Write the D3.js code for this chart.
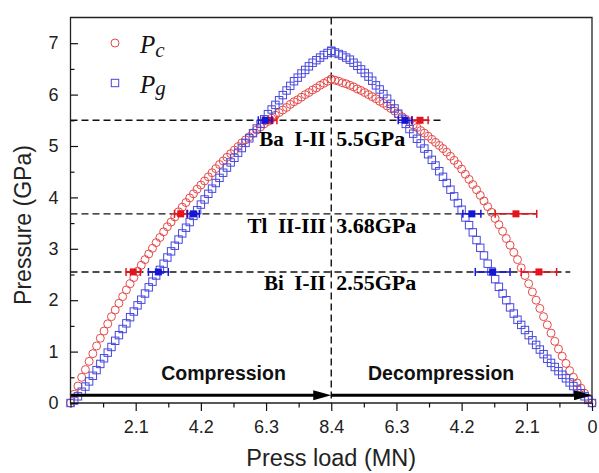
<!DOCTYPE html>
<html>
<head>
<meta charset="utf-8">
<script src="https://cdn.jsdelivr.net/npm/d3@7"></script>
<style>
  body { margin: 0; background: #fff; overflow: hidden; }
  svg { display: block; }
</style>
</head>
<body>
<svg class="chart" width="599" height="473"></svg>
<script>
// press load steps (MN), shared by both branches
const loads = [0, 0.12, 0.24, 0.36, 0.48, 0.6, 0.72, 0.84, 0.96, 1.08,
    1.2, 1.32, 1.44, 1.56, 1.68, 1.8, 1.92, 2.04, 2.16, 2.28,
    2.4, 2.52, 2.64, 2.76, 2.88, 3, 3.12, 3.24, 3.36, 3.48,
    3.6, 3.72, 3.84, 3.96, 4.08, 4.2, 4.32, 4.44, 4.56, 4.68,
    4.8, 4.92, 5.04, 5.16, 5.28, 5.4, 5.52, 5.64, 5.76, 5.88,
    6, 6.12, 6.24, 6.36, 6.48, 6.6, 6.72, 6.84, 6.96, 7.08,
    7.2, 7.32, 7.44, 7.56, 7.68, 7.8, 7.92, 8.04, 8.16, 8.28, 8.4];

// Pc on compression / decompression (indexed like loads)
const pcUp = [0, 0.17, 0.33, 0.50, 0.65, 0.81, 0.96, 1.11, 1.26, 1.40,
    1.54, 1.68, 1.81, 1.94, 2.07, 2.20, 2.32, 2.44, 2.56, 2.68,
    2.79, 2.90, 3.01, 3.12, 3.22, 3.33, 3.43, 3.52, 3.62, 3.72,
    3.81, 3.90, 3.99, 4.07, 4.16, 4.24, 4.32, 4.40, 4.48, 4.56,
    4.64, 4.71, 4.78, 4.85, 4.92, 4.99, 5.06, 5.12, 5.18, 5.25,
    5.31, 5.37, 5.43, 5.48, 5.54, 5.60, 5.65, 5.70, 5.75, 5.81,
    5.86, 5.90, 5.95, 6.00, 6.04, 6.09, 6.13, 6.18, 6.22, 6.26, 6.30];
const pcDown = [0, 0.09, 0.19, 0.29, 0.39, 0.50, 0.63, 0.77, 0.91, 1.05,
    1.20, 1.36, 1.52, 1.68, 1.84, 2.00, 2.16, 2.32, 2.48, 2.63,
    2.79, 2.93, 3.07, 3.20, 3.34, 3.47, 3.59, 3.71, 3.82, 3.93,
    4.04, 4.15, 4.25, 4.35, 4.45, 4.55, 4.64, 4.72, 4.80, 4.88,
    4.95, 5.01, 5.07, 5.13, 5.19, 5.25, 5.30, 5.36, 5.41, 5.47,
    5.52, 5.57, 5.62, 5.68, 5.73, 5.78, 5.83, 5.87, 5.92, 5.96,
    6.00, 6.04, 6.08, 6.11, 6.15, 6.18, 6.21, 6.23, 6.26, 6.28, 6.30];

// Pg on compression / decompression
const pgUp = [0, 0.05, 0.13, 0.22, 0.32, 0.42, 0.53, 0.64, 0.76, 0.87,
    0.98, 1.09, 1.21, 1.32, 1.44, 1.55, 1.67, 1.78, 1.90, 2.01,
    2.13, 2.25, 2.36, 2.48, 2.59, 2.71, 2.83, 2.95, 3.06, 3.18,
    3.30, 3.41, 3.52, 3.64, 3.75, 3.86, 3.96, 4.07, 4.17, 4.28,
    4.38, 4.48, 4.58, 4.68, 4.77, 4.87, 4.96, 5.06, 5.15, 5.25,
    5.34, 5.43, 5.52, 5.62, 5.71, 5.80, 5.89, 5.99, 6.08, 6.17,
    6.26, 6.33, 6.41, 6.48, 6.55, 6.62, 6.67, 6.72, 6.77, 6.81, 6.85];
const pgDown = [0, 0.06, 0.13, 0.19, 0.26, 0.33, 0.40, 0.48, 0.55, 0.62,
    0.70, 0.78, 0.86, 0.95, 1.04, 1.13, 1.22, 1.32, 1.42, 1.52,
    1.62, 1.74, 1.86, 2.00, 2.13, 2.26, 2.41, 2.56, 2.71, 2.87,
    3.02, 3.17, 3.32, 3.46, 3.61, 3.76, 3.89, 4.02, 4.15, 4.28,
    4.40, 4.51, 4.62, 4.73, 4.84, 4.95, 5.05, 5.14, 5.24, 5.33,
    5.43, 5.53, 5.63, 5.73, 5.82, 5.92, 6.01, 6.10, 6.18, 6.27,
    6.35, 6.42, 6.49, 6.56, 6.62, 6.68, 6.72, 6.76, 6.79, 6.82, 6.85];

// calibration transitions
const phaseEl = ['Bi', 'Tl', 'Ba'];
const phaseTr = ['I-II', 'II-III', 'I-II'];
const transP = [2.55, 3.68, 5.5];
const dashEnd = [16.1, 15.03, 12.0];      // where each dashed line stops (axis units)

// load at each transition, with error (MN)
const pcCompLoad = [2.02, 3.55, 6.43], pcCompErr = [0.23, 0.2, 0.22];
const pgCompLoad = [2.83, 3.96, 6.27], pgCompErr = [0.32, 0.19, 0.22];
const pcDecLoad = [1.71, 2.45, 5.54], pcDecErr = [0.57, 0.67, 0.26];
const pgDecLoad = [3.2, 3.87, 6.02], pgDecErr = [0.56, 0.29, 0.22];

const peakLoad = 8.4;
const xTickPos = [2.1, 4.2, 6.3, 8.4, 10.5, 12.6, 14.7, 16.8];
const xTickLabels = ['2.1', '4.2', '6.3', '8.4', '6.3', '4.2', '2.1', '0'];
const xMinor = [0, 1.05, 3.15, 5.25, 7.35, 9.45, 11.55, 13.65, 15.75];
const yTicks = [0, 1, 2, 3, 4, 5, 6, 7];
const yMinor = [0.5, 1.5, 2.5, 3.5, 4.5, 5.5, 6.5];

const red = '#e64a4a', blue = '#4848dc';
const redDark = '#e3141c', blueDark = '#1515d6';
const sans = '"Liberation Sans", Arial, sans-serif';
const serif = '"Liberation Serif", "Times New Roman", serif';

const chart = d3.select('.chart');
const width = +chart.attr('width');
const height = +chart.attr('height');
const margin = { top: 17.5, right: 7, bottom: 70, left: 70.5 };
const innerWidth = width - margin.left - margin.right;
const innerHeight = height - margin.top - margin.bottom;

const xScale = d3.scaleLinear().domain([0, 2 * peakLoad]).range([0, innerWidth]);
const yScale = d3.scaleLinear().domain([0, 7.5]).range([innerHeight, 0]);
const unload = l => 2 * peakLoad - l;   // decompression runs back along the axis

const g = chart.append('g')
    .attr('transform', `translate(${margin.left},${margin.top})`);

// transition dashed lines
const dashed = g.append('g').attr('stroke', '#111').attr('stroke-width', 1.4)
    .attr('stroke-dasharray', '7,4').attr('fill', 'none');
transP.forEach((p, i) => {
    dashed.append('line')
        .attr('x1', xScale(0)).attr('x2', xScale(dashEnd[i]))
        .attr('y1', yScale(p)).attr('y2', yScale(p));
});
dashed.append('line')
    .attr('x1', xScale(peakLoad)).attr('x2', xScale(peakLoad))
    .attr('y1', 0).attr('y2', innerHeight);

// Pc circles
const pcData = loads.map((l, i) => ({ x: l, y: pcUp[i] }))
    .concat(loads.map((l, i) => ({ x: unload(l), y: pcDown[i] })));
g.append('g').selectAll('circle').data(pcData)
    .enter().append('circle')
    .attr('cx', d => xScale(d.x))
    .attr('cy', d => yScale(d.y))
    .attr('r', 4)
    .attr('fill', 'none')
    .attr('stroke', red)
    .attr('stroke-width', 1);

// Pg squares
const sq = 7.4;
const pgData = loads.map((l, i) => ({ x: l, y: pgUp[i] }))
    .concat(loads.map((l, i) => ({ x: unload(l), y: pgDown[i] })));
g.append('g').selectAll('rect').data(pgData)
    .enter().append('rect')
    .attr('x', d => xScale(d.x) - sq / 2)
    .attr('y', d => yScale(d.y) - sq / 2)
    .attr('width', sq).attr('height', sq)
    .attr('fill', 'none')
    .attr('stroke', blue)
    .attr('stroke-width', 1);

// error bars at transitions
const errPoints = [];
transP.forEach((p, i) => {
    errPoints.push({ x: pcCompLoad[i], e: pcCompErr[i], y: p, c: redDark });
    errPoints.push({ x: unload(pcDecLoad[i]), e: pcDecErr[i], y: p, c: redDark });
});
transP.forEach((p, i) => {
    errPoints.push({ x: pgCompLoad[i], e: pgCompErr[i], y: p, c: blueDark });
    errPoints.push({ x: unload(pgDecLoad[i]), e: pgDecErr[i], y: p, c: blueDark });
});
const eb = g.append('g').selectAll('g').data(errPoints).enter().append('g')
    .attr('stroke', d => d.c).attr('fill', d => d.c).attr('stroke-width', 1.5);
eb.append('line')
    .attr('x1', d => xScale(d.x - d.e)).attr('x2', d => xScale(d.x + d.e))
    .attr('y1', d => yScale(d.y)).attr('y2', d => yScale(d.y));
eb.append('line')
    .attr('x1', d => xScale(d.x - d.e)).attr('x2', d => xScale(d.x - d.e))
    .attr('y1', d => yScale(d.y) - 4).attr('y2', d => yScale(d.y) + 4);
eb.append('line')
    .attr('x1', d => xScale(d.x + d.e)).attr('x2', d => xScale(d.x + d.e))
    .attr('y1', d => yScale(d.y) - 4).attr('y2', d => yScale(d.y) + 4);
eb.append('rect')
    .attr('x', d => xScale(d.x) - 3.5).attr('y', d => yScale(d.y) - 3.5)
    .attr('width', 7).attr('height', 7).attr('stroke', 'none');

// compression / decompression arrows
const arrowY = yScale(0.15);
[[0, peakLoad], [peakLoad, 2 * peakLoad]].forEach(([a, b]) => {
    g.append('line')
        .attr('x1', xScale(a)).attr('x2', xScale(b) - 10)
        .attr('y1', arrowY).attr('y2', arrowY)
        .attr('stroke', '#000').attr('stroke-width', 3);
    const tip = xScale(b);
    g.append('path')
        .attr('d', `M${tip},${arrowY}L${tip - 18},${arrowY - 5}L${tip - 18},${arrowY + 5}Z`)
        .attr('fill', '#000');
});

// frame
g.append('path')
    .attr('d', `M0,0H${innerWidth}V${innerHeight}H0Z`)
    .attr('fill', 'none').attr('stroke', '#222').attr('stroke-width', 1.3);

// axes
g.append('g')
    .attr('transform', `translate(0,${innerHeight})`)
    .call(d3.axisBottom(xScale).tickValues(xTickPos).tickSize(8).tickSizeOuter(0)
        .tickPadding(9).tickFormat((d, i) => xTickLabels[i]));
g.append('g')
    .attr('transform', `translate(0,${innerHeight})`)
    .call(d3.axisBottom(xScale).tickValues(xMinor).tickSize(4.5).tickSizeOuter(0).tickFormat(''));
g.append('g')
    .call(d3.axisLeft(yScale).tickValues(yTicks).tickSize(-7.5).tickSizeOuter(0).tickPadding(12));
g.append('g')
    .call(d3.axisLeft(yScale).tickValues(yMinor).tickSize(-4).tickSizeOuter(0).tickFormat(''));
g.selectAll('.domain').remove();
g.selectAll('.tick line').attr('stroke', '#111').attr('stroke-width', 1.2);
g.selectAll('.tick text')
    .attr('font-family', sans).attr('font-size', 18).attr('fill', '#222');

// transition labels
const labelDrop = [18.5, 19.5, 26];
transP.forEach((p, i) => {
    const yy = yScale(p) + labelDrop[i];
    g.append('text')
        .attr('x', xScale(peakLoad) - 5.5).attr('y', yy)
        .attr('text-anchor', 'end')
        .attr('font-family', serif).attr('font-weight', 'bold').attr('font-size', 21)
        .text(`${phaseEl[i]}\u2002${phaseTr[i]}`);
    g.append('text')
        .attr('x', xScale(peakLoad) + 5).attr('y', yy)
        .attr('font-family', serif).attr('font-weight', 'bold').attr('font-size', 22)
        .text(`${p}GPa`);
});

const phaseText = [['Compression', 4.93], ['Decompression', 11.94]];
phaseText.forEach(([t, pos]) => {
    g.append('text')
        .attr('x', xScale(pos)).attr('y', yScale(0.45))
        .attr('text-anchor', 'middle')
        .attr('font-family', sans).attr('font-weight', 'bold').attr('font-size', 19.5)
        .attr('fill', '#111')
        .text(t);
});

// axis titles
chart.append('text')
    .attr('x', margin.left + xScale(peakLoad)).attr('y', 466)
    .attr('text-anchor', 'middle')
    .attr('font-family', sans).attr('font-size', 23.5).attr('fill', '#222')
    .text('Press load (MN)');
chart.append('text')
    .attr('transform', 'translate(30.5,225) rotate(-90)')
    .attr('text-anchor', 'middle')
    .attr('font-family', sans).attr('font-size', 23).attr('fill', '#222')
    .text('Pressure (GPa)');

// legend
const legend = chart.append('g');
legend.append('circle').attr('cx', 115).attr('cy', 43).attr('r', 4)
    .attr('fill', 'none').attr('stroke', red).attr('stroke-width', 1);
legend.append('rect').attr('x', 115 - sq / 2).attr('y', 83 - sq / 2)
    .attr('width', sq).attr('height', sq)
    .attr('fill', 'none').attr('stroke', blue).attr('stroke-width', 1);
[['c', 53, 3.5], ['g', 93, 2]].forEach(([s, yy, dy]) => {
    const t = legend.append('text').attr('x', 140).attr('y', yy)
        .attr('font-family', serif).attr('font-style', 'italic').attr('font-size', 25)
        .attr('fill', '#111');
    t.append('tspan').text('P');
    t.append('tspan').attr('dy', dy).attr('font-size', 21).text(s);
});
</script>
</body>
</html>
